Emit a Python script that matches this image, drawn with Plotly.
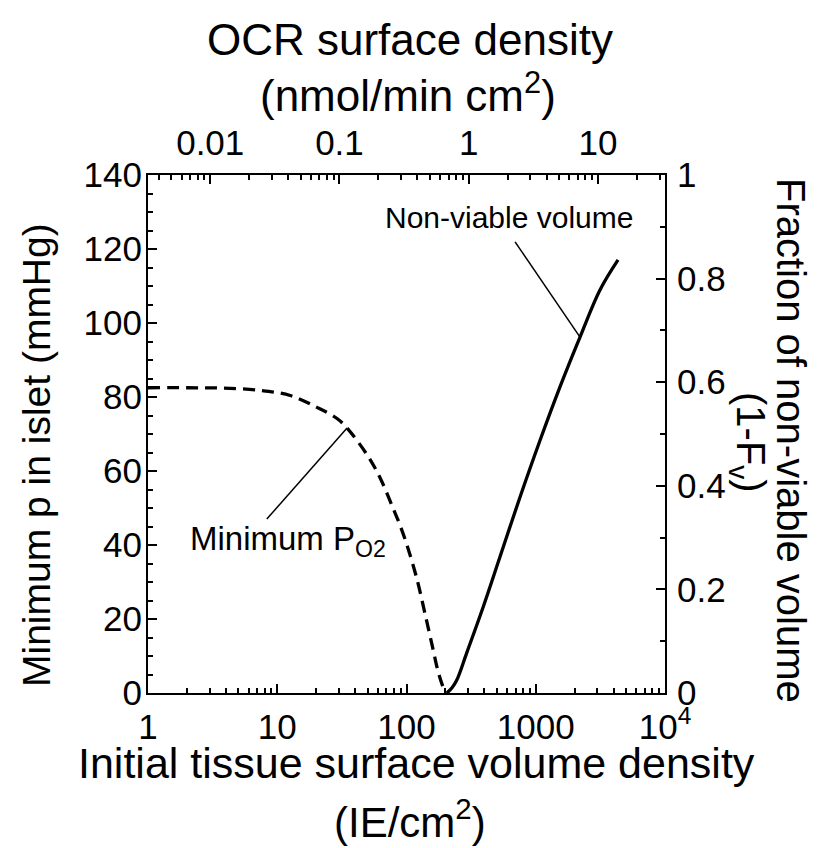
import numpy as np
import plotly.graph_objects as go

# ---- data -------------------------------------------------------------
# minimum islet oxygen partial pressure (left axis, mmHg) vs seeding density
po2_density = [1, 2, 3.8, 7.4, 12.6, 20.3, 29, 34.7, 49.5, 62.4, 78.6, 89,
               101, 120, 140, 160, 175, 190, 200]
po2_min = [82.5, 82.5, 82.4, 81.8, 80.4, 77.2, 74.2, 71.6, 64.4, 58.2, 50.0,
           45.4, 39.9, 31.0, 21.0, 12.0, 6.0, 2.0, 0.0]

# fraction of non-viable volume (right axis) vs seeding density
nv_density = [205, 225, 245, 292, 392, 529, 755, 1080, 1540, 2200, 3140, 4330]
nv_fraction = [0.0, 0.01, 0.025, 0.077, 0.166, 0.263, 0.378, 0.488, 0.591,
               0.687, 0.778, 0.836]

# OCR surface density per unit tissue density (nmol/min cm^2 per IE/cm^2)
OCR_PER_IE = 0.0033

bottom_ticks = [1, 10, 100, 1000, 10000]
bottom_labels = ["1", "10", "100", "1000", "10<sup>4</sup>"]
top_ticks = [0.01, 0.1, 1, 10]
top_labels = ["0.01", "0.1", "1", "10"]

# pointer lines for the curve labels: (label end, index of point on curve)
po2_pointer_start = (8.3, 47.0)
po2_pointer_idx = 7
nv_pointer_start = (692, 0.871)
nv_pointer_idx = 9

FONT = "Liberation Sans, Arial, sans-serif"
W, H = 831, 848
L, R, T, B = 148, 166, 175, 155
PW, PH = W - L - R, H - T - B


def px(xp):
    return (xp - L) / PW


def py(yp):
    return (H - B - yp) / PH


def log_minor(lo_exp, hi_exp, lo, hi):
    vals = []
    for e in range(lo_exp, hi_exp + 1):
        for m in range(2, 10):
            v = m * 10.0 ** e
            if lo <= v <= hi:
                vals.append(v)
    return vals


fig = go.Figure()

fig.add_trace(go.Scatter(
    x=po2_density, y=po2_min, mode="lines", xaxis="x", yaxis="y",
    line=dict(color="black", width=3.3, dash="12px,7px", shape="spline"),
    showlegend=False, hoverinfo="skip"))

fig.add_trace(go.Scatter(
    x=nv_density, y=nv_fraction, mode="lines", xaxis="x", yaxis="y2",
    line=dict(color="black", width=3.3, shape="spline"),
    showlegend=False, hoverinfo="skip"))

# pointer lines from the labels to the curves
fig.add_trace(go.Scatter(
    x=[po2_pointer_start[0], po2_density[po2_pointer_idx]],
    y=[po2_pointer_start[1], po2_min[po2_pointer_idx]],
    mode="lines", xaxis="x", yaxis="y",
    line=dict(color="black", width=1.5), showlegend=False, hoverinfo="skip"))
fig.add_trace(go.Scatter(
    x=[nv_pointer_start[0], nv_density[nv_pointer_idx]],
    y=[nv_pointer_start[1], nv_fraction[nv_pointer_idx]],
    mode="lines", xaxis="x", yaxis="y2",
    line=dict(color="black", width=1.5), showlegend=False, hoverinfo="skip"))

# invisible trace so the OCR (top) axis is drawn
fig.add_trace(go.Scatter(
    x=[OCR_PER_IE * bottom_ticks[0], OCR_PER_IE * bottom_ticks[-1]],
    y=[None, None], mode="lines", xaxis="x2", yaxis="y",
    showlegend=False, hoverinfo="skip"))

axis_common = dict(
    showgrid=False, zeroline=False, showline=True, linecolor="black",
    linewidth=2, ticks="inside", ticklen=9, tickwidth=1.5, tickcolor="black",
    tickfont=dict(family=FONT, size=35, color="black"),
)

lo, hi = bottom_ticks[0], bottom_ticks[-1]
ocr_lo, ocr_hi = OCR_PER_IE * lo, OCR_PER_IE * hi

fig.update_layout(
    width=W, height=H,
    margin=dict(l=L, r=R, t=T, b=B),
    paper_bgcolor="white", plot_bgcolor="white",
    xaxis=dict(
        type="log", range=[np.log10(lo), np.log10(hi)], side="bottom",
        anchor="y", tickmode="array", tickvals=bottom_ticks,
        ticktext=bottom_labels, ticklabelstandoff=2,
        minor=dict(tickmode="array", tickvals=log_minor(0, 3, lo, hi),
                   ticks="inside", ticklen=5, tickwidth=1.5,
                   tickcolor="black"),
        **axis_common),
    xaxis2=dict(
        type="log", range=[np.log10(ocr_lo), np.log10(ocr_hi)], side="top",
        overlaying="x", anchor="y", tickmode="array", tickvals=top_ticks,
        ticktext=top_labels, ticklabelstandoff=4,
        minor=dict(tickmode="array", tickvals=log_minor(-3, 1, ocr_lo, ocr_hi),
                   ticks="inside", ticklen=5, tickwidth=1.5,
                   tickcolor="black"),
        **axis_common),
    yaxis=dict(
        range=[0, 140], dtick=20, tick0=0, side="left", anchor="x",
        ticklabelstandoff=-3,
        minor=dict(dtick=5, ticks="inside", ticklen=5, tickwidth=1.5,
                   tickcolor="black"),
        **axis_common),
    yaxis2=dict(
        range=[0, 1], dtick=0.2, tick0=0, side="right", overlaying="y",
        anchor="x", ticklabelstandoff=3,
        minor=dict(dtick=0.1, ticks="inside", ticklen=5, tickwidth=1.5,
                   tickcolor="black"),
        **axis_common),
)

htitle_font = dict(family=FONT, size=43, color="black")
vtitle_font = dict(family=FONT, size=40, color="black")

annotations = [
    dict(text="OCR surface density", x=px(410), y=py(40),
         font=dict(family=FONT, size=44, color="black")),
    dict(text="(nmol/min cm<sup>2</sup>)", x=px(408), y=py(92),
         font=dict(family=FONT, size=44, color="black")),
    dict(text="Initial tissue surface volume density", x=px(416), y=py(763),
         font=htitle_font),
    dict(text="(IE/cm<sup>2</sup>)", x=px(410), y=py(819),
         font=dict(family=FONT, size=42, color="black")),
    dict(text="Minimum p in islet (mmHg)", x=px(36), y=py(455),
         textangle=-90, font=dict(family=FONT, size=39, color="black")),
    dict(text="Fraction of non-viable volume", x=px(791), y=py(440),
         textangle=90, font=vtitle_font),
    dict(text="(1-F<sub>v</sub>)", x=px(748), y=py(442), textangle=90,
         font=vtitle_font),
]
for a in annotations:
    a.update(xref="paper", yref="paper", showarrow=False,
             xanchor="center", yanchor="middle")

annotations += [
    dict(text="Non-viable volume", x=np.log10(nv_pointer_start[0]) - 0.05,
         y=0.917, xref="x", yref="y2", showarrow=False,
         font=dict(family=FONT, size=30, color="black"),
         xanchor="center", yanchor="middle"),
    dict(text="Minimum P<sub>O2</sub>", x=1.08, y=41.0, xref="x", yref="y",
         showarrow=False, font=dict(family=FONT, size=33, color="black"),
         xanchor="center", yanchor="middle"),
]
fig.update_layout(annotations=annotations)

fig.write_html("out.html")
